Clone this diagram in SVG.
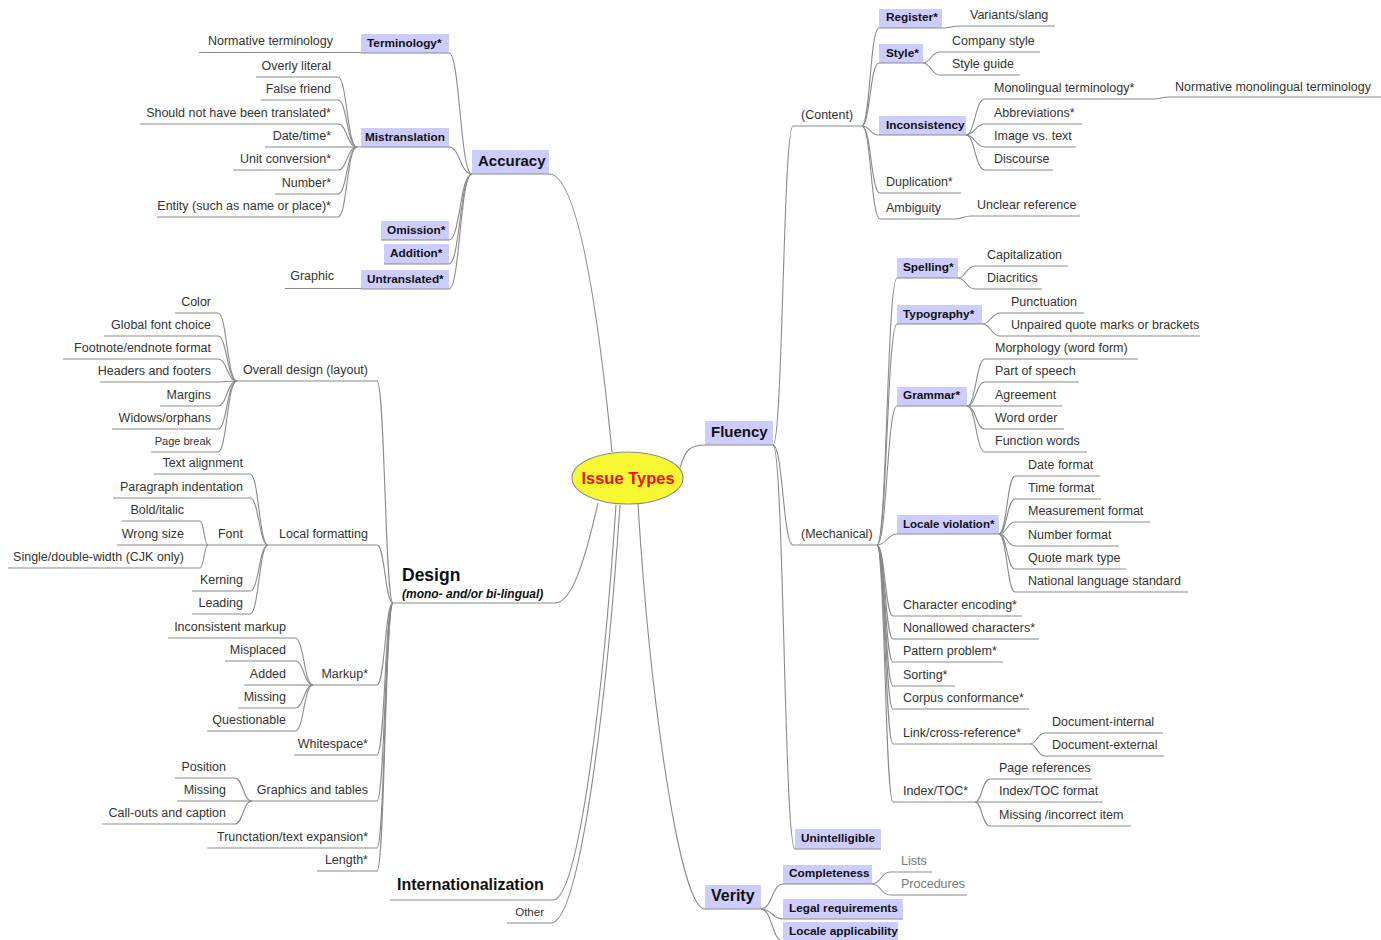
<svg xmlns="http://www.w3.org/2000/svg" width="1381" height="940" viewBox="0 0 1381 940">
<style>
text{font-family:"Liberation Sans",Arial,sans-serif;fill:#333;font-size:12.5px}
.e{text-anchor:end}
.b{font-weight:bold;font-size:11.8px;fill:#111}
.h{font-weight:bold;font-size:15px;fill:#111}
.box{fill:#ccccff}
.u,.c path{stroke:#8a8a8a;stroke-width:1.1;fill:none}
.g{fill:#777}
</style>
<rect width="1381" height="940" fill="#fff"/>
<g class="c" id="connectors">
<path d="M612,452 C600,330 580,174 549,174"/>
<path d="M680,468 C685,450 690,445 705,445"/>
<path d="M598,503 C585,560 572,603 555,603"/>
<path d="M616,505 C603,700 578,900 553,900"/>
<path d="M620,505 C607,700 580,923 551,923"/>
<path d="M638,504 C650,700 680,909 705,909"/>
<path d="M472,174 C460,174 460,53 449,53"/>
<path d="M472,174 C460,174 460,147 449,147"/>
<path d="M472,174 C460,174 460,240 449,240"/>
<path d="M472,174 C460,174 460,264 449,264"/>
<path d="M472,174 C460,174 460,289 449,289"/>
<path d="M357,147 C347,147 347,77 338,77"/>
<path d="M357,147 C347,147 347,100 338,100"/>
<path d="M357,147 C347,147 347,124 338,124"/>
<path d="M357,147 L338,147"/>
<path d="M357,147 C347,147 347,170 338,170"/>
<path d="M357,147 C347,147 347,194 338,194"/>
<path d="M357,147 C347,147 347,217 338,217"/>
<path d="M773,445 C783,445 783,126 793,126"/>
<path d="M773,445 C783,445 783,545 793,545"/>
<path d="M773,445 C784,445 784,849 795,849"/>
<path d="M862,126 C870,126 870,28 879,28"/>
<path d="M862,126 C870,126 870,63 879,63"/>
<path d="M862,126 C870,126 870,135 879,135"/>
<path d="M862,126 C871,126 871,193 880,193"/>
<path d="M862,126 C871,126 871,219 880,219"/>
<path d="M942,28 C951,28 951,26 960,26"/>
<path d="M923,63 C931,63 931,52 940,52"/>
<path d="M923,63 C931,63 931,75 940,75"/>
<path d="M966,135 C975,135 975,99 985,99"/>
<path d="M966,135 C975,135 975,124 985,124"/>
<path d="M966,135 C975,135 975,147 985,147"/>
<path d="M966,135 C975,135 975,170 985,170"/>
<path d="M1153,99 C1161,99 1161,97 1170,97"/>
<path d="M955,219 C963,219 963,216 971,216"/>
<path d="M877,545 C887,545 887,278 897,278"/>
<path d="M877,545 C887,545 887,324 897,324"/>
<path d="M877,545 C887,545 887,406 897,406"/>
<path d="M877,545 C887,545 887,534 897,534"/>
<path d="M877,545 C885,545 885,616 893,616"/>
<path d="M877,545 C885,545 885,639 893,639"/>
<path d="M877,545 C885,545 885,662 893,662"/>
<path d="M877,545 C885,545 885,686 893,686"/>
<path d="M877,545 C885,545 885,709 893,709"/>
<path d="M877,545 C885,545 885,744 893,744"/>
<path d="M877,545 C885,545 885,802 893,802"/>
<path d="M958,278 C966,278 966,266 975,266"/>
<path d="M958,278 C966,278 966,289 975,289"/>
<path d="M982,324 C991,324 991,313 1000,313"/>
<path d="M982,324 C991,324 991,336 1000,336"/>
<path d="M967,406 C976,406 976,359 985,359"/>
<path d="M967,406 C976,406 976,382 985,382"/>
<path d="M967,406 L985,406"/>
<path d="M967,406 C976,406 976,429 985,429"/>
<path d="M967,406 C976,406 976,452 985,452"/>
<path d="M999,534 C1007,534 1007,476 1015,476"/>
<path d="M999,534 C1007,534 1007,499 1015,499"/>
<path d="M999,534 C1007,534 1007,522 1015,522"/>
<path d="M999,534 C1007,534 1007,546 1015,546"/>
<path d="M999,534 C1007,534 1007,569 1015,569"/>
<path d="M999,534 C1007,534 1007,592 1015,592"/>
<path d="M1030,744 C1037,744 1037,733 1045,733"/>
<path d="M1030,744 C1037,744 1037,756 1045,756"/>
<path d="M975,802 C982,802 982,779 990,779"/>
<path d="M975,802 L990,802"/>
<path d="M975,802 C982,802 982,826 990,826"/>
<path d="M761,909 C772,909 772,884 783,884"/>
<path d="M761,909 C772,909 772,919 783,919"/>
<path d="M761,909 C772,909 772,941 783,941"/>
<path d="M872,884 C881,884 881,872 890,872"/>
<path d="M872,884 C881,884 881,895 890,895"/>
<path d="M393,603 C385,603 385,381 377,381"/>
<path d="M393,603 C385,603 385,545 377,545"/>
<path d="M393,603 C385,603 385,685 377,685"/>
<path d="M393,603 C385,603 385,755 377,755"/>
<path d="M393,603 C385,603 385,801 377,801"/>
<path d="M393,603 C385,603 385,848 377,848"/>
<path d="M393,603 C385,603 385,871 377,871"/>
<path d="M237,381 C227,381 227,313 218,313"/>
<path d="M237,381 C227,381 227,336 218,336"/>
<path d="M237,381 C227,381 227,359 218,359"/>
<path d="M237,381 C227,381 227,382 218,382"/>
<path d="M237,381 C227,381 227,406 218,406"/>
<path d="M237,381 C227,381 227,429 218,429"/>
<path d="M237,381 C227,381 227,452 218,452"/>
<path d="M268,545 C259,545 259,474 250,474"/>
<path d="M268,545 C259,545 259,498 250,498"/>
<path d="M268,545 C259,545 259,591 250,591"/>
<path d="M268,545 C259,545 259,614 250,614"/>
<path d="M208,545 C204,545 204,521 200,521"/>
<path d="M208,545 C204,545 204,568 200,568"/>
<path d="M313,685 C304,685 304,638 295,638"/>
<path d="M313,685 C304,685 304,661 295,661"/>
<path d="M313,685 L295,685"/>
<path d="M313,685 C304,685 304,708 295,708"/>
<path d="M313,685 C304,685 304,731 295,731"/>
<path d="M252,801 C243,801 243,778 235,778"/>
<path d="M252,801 L235,801"/>
<path d="M252,801 C243,801 243,824 235,824"/>
</g>

<g id="issue-types">
<ellipse cx="627.5" cy="478" rx="55.5" ry="26" fill="#f8f832" stroke="#8a8a8a" stroke-width="1.1"/>
<text x="628" y="484" text-anchor="middle" style="font-weight:bold;font-size:16.5px;fill:#ee1111">Issue Types</text>
</g>

<!-- Accuracy -->
<g id="accuracy"><rect class="box" x="472" y="150" width="77" height="24"/><line class="u" x1="472" y1="174" x2="549" y2="174"/><text class="h" x="478" y="166">Accuracy</text></g>
<g id="terminology"><rect class="box" x="361" y="34" width="88" height="19"/><line class="u" x1="361" y1="53" x2="449" y2="53"/><text class="b" x="367" y="47">Terminology*</text></g>
<g id="normative-terminology"><line class="u" x1="199" y1="52.5" x2="361" y2="52.5"/><text class="e" x="333" y="45">Normative terminology</text></g>
<g id="mistranslation"><rect class="box" x="361" y="128" width="88" height="19"/><line class="u" x1="357" y1="147" x2="449" y2="147"/><text class="b" x="365" y="141">Mistranslation</text></g>
<g id="overly-literal"><line class="u" x1="256" y1="77" x2="338" y2="77"/><text class="e" x="331" y="70">Overly literal</text></g>
<g id="false-friend"><line class="u" x1="261" y1="100" x2="338" y2="100"/><text class="e" x="331" y="93">False friend</text></g>
<g id="should-not"><line class="u" x1="140" y1="124" x2="338" y2="124"/><text class="e" x="331" y="117">Should not have been translated*</text></g>
<g id="date-time"><line class="u" x1="265" y1="147" x2="338" y2="147"/><text class="e" x="331" y="140">Date/time*</text></g>
<g id="unit-conversion"><line class="u" x1="233" y1="170" x2="338" y2="170"/><text class="e" x="331" y="163">Unit conversion*</text></g>
<g id="number"><line class="u" x1="275" y1="194" x2="338" y2="194"/><text class="e" x="331" y="187">Number*</text></g>
<g id="entity"><line class="u" x1="157" y1="217" x2="338" y2="217"/><text class="e" x="331" y="210">Entity (such as name or place)*</text></g>
<g id="omission"><rect class="box" x="381" y="221" width="68" height="19"/><line class="u" x1="381" y1="240" x2="449" y2="240"/><text class="b" x="387" y="234">Omission*</text></g>
<g id="addition"><rect class="box" x="384" y="244" width="65" height="20"/><line class="u" x1="384" y1="264" x2="449" y2="264"/><text class="b" x="390" y="257">Addition*</text></g>
<g id="untranslated"><rect class="box" x="361" y="270" width="88" height="19"/><line class="u" x1="361" y1="289" x2="449" y2="289"/><text class="b" x="367" y="283">Untranslated*</text></g>
<g id="graphic"><line class="u" x1="285" y1="288.5" x2="361" y2="288.5"/><text class="e" x="334" y="280">Graphic</text></g>

<!-- Fluency -->
<g id="fluency"><rect class="box" x="705" y="421" width="68" height="24"/><line class="u" x1="705" y1="445" x2="773" y2="445"/><text class="h" x="711" y="437">Fluency</text></g>
<g id="content"><line class="u" x1="793" y1="126" x2="862" y2="126"/><text x="801" y="119">(Content)</text></g>
<g id="register"><rect class="box" x="879" y="9" width="63" height="19"/><line class="u" x1="879" y1="28" x2="942" y2="28"/><text class="b" x="886" y="21">Register*</text></g>
<g id="variants"><line class="u" x1="960" y1="26" x2="1055" y2="26"/><text x="970" y="19">Variants/slang</text></g>
<g id="style"><rect class="box" x="879" y="44" width="44" height="19"/><line class="u" x1="879" y1="63" x2="923" y2="63"/><text class="b" x="886" y="57">Style*</text></g>
<g id="company-style"><line class="u" x1="940" y1="52" x2="1040" y2="52"/><text x="952" y="45">Company style</text></g>
<g id="style-guide"><line class="u" x1="940" y1="75" x2="1020" y2="75"/><text x="952" y="68">Style guide</text></g>
<g id="inconsistency"><rect class="box" x="879" y="116" width="87" height="19"/><line class="u" x1="879" y1="135" x2="966" y2="135"/><text class="b" x="886" y="129">Inconsistency</text></g>
<g id="monolingual"><line class="u" x1="985" y1="99" x2="1153" y2="99"/><text x="994" y="92">Monolingual terminology*</text></g>
<g id="normative-mono"><line class="u" x1="1170" y1="97" x2="1381" y2="97"/><text x="1175" y="91">Normative monolingual terminology</text></g>
<g id="abbreviations"><line class="u" x1="985" y1="124" x2="1082" y2="124"/><text x="994" y="117">Abbreviations*</text></g>
<g id="image-text"><line class="u" x1="985" y1="147" x2="1076" y2="147"/><text x="994" y="140">Image vs. text</text></g>
<g id="discourse"><line class="u" x1="985" y1="170" x2="1053" y2="170"/><text x="994" y="163">Discourse</text></g>
<g id="duplication"><line class="u" x1="880" y1="193" x2="961" y2="193"/><text x="886" y="186">Duplication*</text></g>
<g id="ambiguity"><line class="u" x1="880" y1="219" x2="955" y2="219"/><text x="886" y="212">Ambiguity</text></g>
<g id="unclear"><line class="u" x1="971" y1="216" x2="1080" y2="216"/><text x="977" y="209">Unclear reference</text></g>

<g id="mechanical"><line class="u" x1="793" y1="545" x2="877" y2="545"/><text x="801" y="538">(Mechanical)</text></g>
<g id="spelling"><rect class="box" x="897" y="258" width="61" height="20"/><line class="u" x1="897" y1="278" x2="958" y2="278"/><text class="b" x="903" y="271">Spelling*</text></g>
<g id="capitalization"><line class="u" x1="975" y1="266" x2="1068" y2="266"/><text x="987" y="259">Capitalization</text></g>
<g id="diacritics"><line class="u" x1="975" y1="289" x2="1042" y2="289"/><text x="987" y="282">Diacritics</text></g>
<g id="typography"><rect class="box" x="897" y="305" width="85" height="19"/><line class="u" x1="897" y1="324" x2="982" y2="324"/><text class="b" x="903" y="318">Typography*</text></g>
<g id="punctuation"><line class="u" x1="1000" y1="313" x2="1084" y2="313"/><text x="1011" y="306">Punctuation</text></g>
<g id="unpaired"><line class="u" x1="1000" y1="336" x2="1200" y2="336"/><text x="1011" y="329">Unpaired quote marks or brackets</text></g>
<g id="grammar"><rect class="box" x="897" y="387" width="70" height="19"/><line class="u" x1="897" y1="406" x2="967" y2="406"/><text class="b" x="903" y="399">Grammar*</text></g>
<g id="morphology"><line class="u" x1="985" y1="359" x2="1138" y2="359"/><text x="995" y="352">Morphology (word form)</text></g>
<g id="part-of-speech"><line class="u" x1="985" y1="382" x2="1079" y2="382"/><text x="995" y="375">Part of speech</text></g>
<g id="agreement"><line class="u" x1="985" y1="406" x2="1062" y2="406"/><text x="995" y="399">Agreement</text></g>
<g id="word-order"><line class="u" x1="985" y1="429" x2="1064" y2="429"/><text x="995" y="422">Word order</text></g>
<g id="function-words"><line class="u" x1="985" y1="452" x2="1087" y2="452"/><text x="995" y="445">Function words</text></g>
<g id="locale-violation"><rect class="box" x="897" y="515" width="102" height="19"/><line class="u" x1="897" y1="534" x2="999" y2="534"/><text class="b" x="903" y="528" style="font-size:11.5px">Locale violation*</text></g>
<g id="date-format"><line class="u" x1="1015" y1="476" x2="1100" y2="476"/><text x="1028" y="469">Date format</text></g>
<g id="time-format"><line class="u" x1="1015" y1="499" x2="1101" y2="499"/><text x="1028" y="492">Time format</text></g>
<g id="measurement-format"><line class="u" x1="1015" y1="522" x2="1150" y2="522"/><text x="1028" y="515">Measurement format</text></g>
<g id="number-format"><line class="u" x1="1015" y1="546" x2="1119" y2="546"/><text x="1028" y="539">Number format</text></g>
<g id="quote-mark"><line class="u" x1="1015" y1="569" x2="1126" y2="569"/><text x="1028" y="562">Quote mark type</text></g>
<g id="national-standard"><line class="u" x1="1015" y1="592" x2="1188" y2="592"/><text x="1028" y="585">National language standard</text></g>
<g id="char-encoding"><line class="u" x1="893" y1="616" x2="1022" y2="616"/><text x="903" y="609">Character encoding*</text></g>
<g id="nonallowed"><line class="u" x1="893" y1="639" x2="1039" y2="639"/><text x="903" y="632">Nonallowed characters*</text></g>
<g id="pattern"><line class="u" x1="893" y1="662" x2="1003" y2="662"/><text x="903" y="655">Pattern problem*</text></g>
<g id="sorting"><line class="u" x1="893" y1="686" x2="955" y2="686"/><text x="903" y="679">Sorting*</text></g>
<g id="corpus"><line class="u" x1="893" y1="709" x2="1029" y2="709"/><text x="903" y="702">Corpus conformance*</text></g>
<g id="link"><line class="u" x1="893" y1="744" x2="1030" y2="744"/><text x="903" y="737">Link/cross-reference*</text></g>
<g id="doc-internal"><line class="u" x1="1045" y1="733" x2="1163" y2="733"/><text x="1052" y="726">Document-internal</text></g>
<g id="doc-external"><line class="u" x1="1045" y1="756" x2="1164" y2="756"/><text x="1052" y="749">Document-external</text></g>
<g id="index-toc"><line class="u" x1="893" y1="802" x2="975" y2="802"/><text x="903" y="795">Index/TOC*</text></g>
<g id="page-references"><line class="u" x1="990" y1="779" x2="1092" y2="779"/><text x="999" y="772">Page references</text></g>
<g id="toc-format"><line class="u" x1="990" y1="802" x2="1103" y2="802"/><text x="999" y="795">Index/TOC format</text></g>
<g id="missing-item"><line class="u" x1="990" y1="826" x2="1131" y2="826"/><text x="999" y="819">Missing /incorrect item</text></g>
<g id="unintelligible"><rect class="box" x="795" y="829" width="86" height="20"/><line class="u" x1="795" y1="849" x2="881" y2="849"/><text class="b" x="801" y="842">Unintelligible</text></g>

<!-- Verity -->
<g id="verity"><rect class="box" x="705" y="885" width="56" height="24"/><line class="u" x1="705" y1="909" x2="761" y2="909"/><text class="h" x="711" y="901" style="font-size:16px">Verity</text></g>
<g id="completeness"><rect class="box" x="783" y="865" width="89" height="19"/><line class="u" x1="783" y1="884" x2="872" y2="884"/><text class="b" x="789" y="877">Completeness</text></g>
<g id="lists"><line class="u" x1="890" y1="872" x2="932" y2="872"/><text class="g" x="901" y="865">Lists</text></g>
<g id="procedures"><line class="u" x1="890" y1="895" x2="967" y2="895"/><text class="g" x="901" y="888">Procedures</text></g>
<g id="legal"><rect class="box" x="783" y="899" width="120" height="20"/><line class="u" x1="783" y1="919" x2="903" y2="919"/><text class="b" x="789" y="912">Legal requirements</text></g>
<g id="locale-applicability"><rect class="box" x="783" y="922" width="115" height="19"/><line class="u" x1="783" y1="941" x2="898" y2="941"/><text class="b" x="789" y="935">Locale applicability</text></g>

<!-- Design -->
<g id="design"><line class="u" x1="393" y1="603" x2="555" y2="603"/><text x="402" y="581" style="font-weight:bold;font-size:17.5px;fill:#111">Design</text><text x="402" y="598" style="font-weight:bold;font-style:italic;font-size:12px;fill:#111">(mono- and/or bi-lingual)</text></g>
<g id="overall-design"><line class="u" x1="237" y1="381" x2="377" y2="381"/><text class="e" x="368" y="374">Overall design (layout)</text></g>
<g id="color"><line class="u" x1="175" y1="313" x2="218" y2="313"/><text class="e" x="211" y="306">Color</text></g>
<g id="global-font"><line class="u" x1="104" y1="336" x2="218" y2="336"/><text class="e" x="211" y="329">Global font choice</text></g>
<g id="footnote"><line class="u" x1="63" y1="359" x2="218" y2="359"/><text class="e" x="211" y="352">Footnote/endnote format</text></g>
<g id="headers"><line class="u" x1="100" y1="382" x2="218" y2="382"/><text class="e" x="211" y="375">Headers and footers</text></g>
<g id="margins"><line class="u" x1="160" y1="406" x2="218" y2="406"/><text class="e" x="211" y="399">Margins</text></g>
<g id="widows"><line class="u" x1="112" y1="429" x2="218" y2="429"/><text class="e" x="211" y="422">Widows/orphans</text></g>
<g id="page-break"><line class="u" x1="151" y1="452" x2="218" y2="452"/><text class="e" x="211" y="445" style="font-size:11px">Page break</text></g>
<g id="local-formatting"><line class="u" x1="268" y1="545" x2="377" y2="545"/><text class="e" x="368" y="538">Local formatting</text></g>
<g id="text-alignment"><line class="u" x1="154" y1="474" x2="250" y2="474"/><text class="e" x="243" y="467">Text alignment</text></g>
<g id="paragraph"><line class="u" x1="113" y1="498" x2="250" y2="498"/><text class="e" x="243" y="491">Paragraph indentation</text></g>
<g id="font"><line class="u" x1="208" y1="545" x2="268" y2="545"/><text class="e" x="243" y="538">Font</text></g>
<g id="bold-italic"><line class="u" x1="122" y1="521" x2="200" y2="521"/><text class="e" x="184" y="514">Bold/italic</text></g>
<g id="wrong-size"><line class="u" x1="117" y1="545" x2="208" y2="545"/><text class="e" x="184" y="538">Wrong size</text></g>
<g id="single-double"><line class="u" x1="8" y1="568" x2="200" y2="568"/><text class="e" x="184" y="561">Single/double-width (CJK only)</text></g>
<g id="kerning"><line class="u" x1="192" y1="591" x2="250" y2="591"/><text class="e" x="243" y="584">Kerning</text></g>
<g id="leading"><line class="u" x1="192" y1="614" x2="250" y2="614"/><text class="e" x="243" y="607">Leading</text></g>
<g id="markup"><line class="u" x1="313" y1="685" x2="377" y2="685"/><text class="e" x="368" y="678">Markup*</text></g>
<g id="inconsistent-markup"><line class="u" x1="168" y1="638" x2="295" y2="638"/><text class="e" x="286" y="631">Inconsistent markup</text></g>
<g id="misplaced"><line class="u" x1="225" y1="661" x2="295" y2="661"/><text class="e" x="286" y="654">Misplaced</text></g>
<g id="added"><line class="u" x1="244" y1="685" x2="295" y2="685"/><text class="e" x="286" y="678">Added</text></g>
<g id="missing-markup"><line class="u" x1="238" y1="708" x2="295" y2="708"/><text class="e" x="286" y="701">Missing</text></g>
<g id="questionable"><line class="u" x1="207" y1="731" x2="295" y2="731"/><text class="e" x="286" y="724">Questionable</text></g>
<g id="whitespace"><line class="u" x1="294" y1="755" x2="377" y2="755"/><text class="e" x="368" y="748">Whitespace*</text></g>
<g id="graphics-tables"><line class="u" x1="252" y1="801" x2="377" y2="801"/><text class="e" x="368" y="794">Graphics and tables</text></g>
<g id="position"><line class="u" x1="175" y1="778" x2="235" y2="778"/><text class="e" x="226" y="771">Position</text></g>
<g id="missing-graphic"><line class="u" x1="177" y1="801" x2="235" y2="801"/><text class="e" x="226" y="794">Missing</text></g>
<g id="callouts"><line class="u" x1="102" y1="824" x2="235" y2="824"/><text class="e" x="226" y="817">Call-outs and caption</text></g>
<g id="truncation"><line class="u" x1="207" y1="848" x2="377" y2="848"/><text class="e" x="368" y="841">Trunctation/text expansion*</text></g>
<g id="length"><line class="u" x1="317" y1="871" x2="377" y2="871"/><text class="e" x="368" y="864">Length*</text></g>

<!-- Internationalization / Other -->
<g id="internationalization"><line class="u" x1="390" y1="900" x2="553" y2="900"/><text x="397" y="890" style="font-weight:bold;font-size:16px;fill:#111">Internationalization</text></g>
<g id="other"><line class="u" x1="507" y1="923" x2="551" y2="923"/><text class="e" x="544" y="916" style="font-size:11.5px">Other</text></g>
</svg>
